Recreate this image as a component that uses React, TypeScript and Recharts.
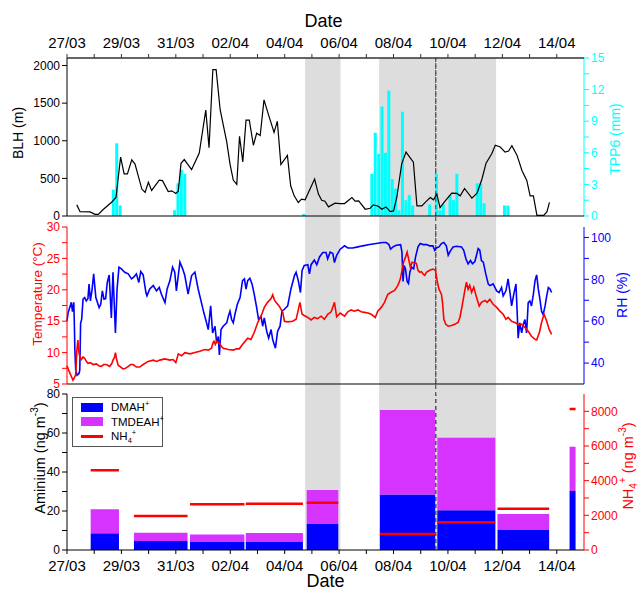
import {
  Area,
  Bar,
  ComposedChart,
  Legend,
  Line,
  ReferenceLine,
  XAxis,
  YAxis,
} from 'recharts'

// x values are days counted from 27/03 00:00
const dateLabels = ['27/03', '29/03', '31/03', '02/04', '04/04', '06/04', '08/04', '10/04', '12/04', '14/04']
const dayTicks = [0, 1, 2, 3, 4, 5, 6, 7, 8, 9, 10, 11, 12, 13, 14, 15, 16, 17, 18]

const blhTicks = [0, 500, 1000, 1500, 2000]
const tppTicks = [0, 1.5, 3, 4.5, 6, 7.5, 9, 10.5, 12, 13.5, 15]
const tempTicks = [5, 7.5, 10, 12.5, 15, 17.5, 20, 22.5, 25, 27.5, 30]
const rhTicks = [40, 50, 60, 70, 80, 90, 100]
const amineTicks = [0, 10, 20, 30, 40, 50, 60, 70, 80]
const nh4Ticks = [0, 1000, 2000, 3000, 4000, 5000, 6000, 7000, 8000]

const shadedPeriods = [[8.75, 10.05], [11.47, 15.77]]
const frontDay = 13.55

// boundary layer height, m
const blh = [
  [0.36, 148], [0.48, 58], [0.85, 55], [1.03, 22], [1.15, 22], [1.34, 90], [1.64, 183], [1.8, 246],
  [1.97, 783], [2.1, 560], [2.22, 560], [2.38, 747], [2.5, 690], [2.75, 358], [2.87, 313], [2.99, 447],
  [3.11, 340], [3.39, 478], [3.51, 470], [3.72, 326], [3.85, 335], [4.0, 300], [4.09, 330], [4.19, 700],
  [4.31, 750], [4.58, 617], [4.86, 836], [5.1, 1409], [5.22, 908], [5.36, 1946], [5.48, 1946], [5.63, 1409],
  [5.87, 984], [5.99, 693], [6.11, 478], [6.24, 420], [6.34, 1060], [6.46, 720], [6.58, 1275], [6.7, 1275],
  [6.85, 940], [6.97, 1100], [7.1, 1070], [7.24, 1543], [7.39, 1365], [7.61, 1110], [7.73, 1260], [7.86, 684],
  [8.1, 805], [8.22, 402], [8.35, 268], [8.5, 180], [8.62, 224], [8.75, 215], [9.1, 492], [9.24, 291],
  [9.36, 210], [9.48, 197], [9.61, 121], [9.85, 170], [10.03, 165], [10.2, 165], [10.47, 246], [10.59, 197],
  [10.72, 201], [10.96, 90], [11.14, 103], [11.26, 148], [11.44, 130], [11.57, 90], [11.72, 121], [11.88, 58],
  [12.0, 67], [12.12, 246], [12.3, 693], [12.46, 850], [12.6, 780], [12.73, 715], [12.86, 134], [13.04, 134],
  [13.22, 201], [13.35, 246], [13.47, 215], [13.59, 291], [13.71, 112], [13.9, 201], [14.14, 304], [14.33, 300],
  [14.45, 268], [14.61, 366], [14.88, 237], [15.07, 304], [15.25, 492], [15.4, 702], [15.61, 827], [15.74, 940],
  [15.92, 917], [16.1, 850], [16.23, 863], [16.35, 935], [16.54, 805], [16.72, 604], [16.9, 470], [17.02, 268],
  [17.14, 268], [17.27, 9], [17.52, 9], [17.64, 58], [17.73, 180],
]

// 3-hourly precipitation, mm
const tpp6 = [
  [1.71, 2.5], [1.835, 6.9], [1.96, 1.0], [3.96, 0.55], [4.085, 3.1], [4.21, 4.4], [4.335, 4.0], [8.71, 0.2],
  [11.21, 4.0], [11.335, 7.9], [11.46, 5.9], [11.585, 10.4], [11.71, 6.0], [11.835, 11.9], [11.96, 3.5],
  [12.085, 2.6], [12.21, 0.55], [12.335, 9.9], [12.46, 1.5], [12.585, 2.0], [12.71, 1.0], [13.335, 1.1],
  [13.585, 4.0], [13.71, 0.55], [13.835, 1.1], [14.085, 2.0], [14.21, 1.5], [14.335, 4.0], [15.085, 3.1],
  [15.21, 3.1], [15.335, 1.2], [16.085, 1.0], [16.21, 1.0],
]

// air temperature, °C
const temperature = [
  [0, 7.9], [0.08, 7.0], [0.16, 6.2], [0.22, 5.6], [0.27, 6.0], [0.32, 6.5], [0.36, 10.2], [0.4, 12.0],
  [0.44, 10.0], [0.47, 9.4], [0.53, 8.9], [0.59, 9.3], [0.65, 9.1], [0.71, 8.6], [0.77, 8.3], [0.86, 8.4],
  [0.96, 8.1], [1.08, 8.2], [1.17, 7.9], [1.26, 7.8], [1.35, 8.1], [1.45, 8.1], [1.57, 7.8], [1.65, 8.3],
  [1.69, 8.8], [1.74, 9.2], [1.78, 10.0], [1.82, 9.0], [1.88, 8.0], [1.94, 7.8], [2.06, 7.4], [2.15, 7.5],
  [2.25, 7.8], [2.34, 8.1], [2.43, 8.1], [2.55, 7.7], [2.67, 7.7], [2.8, 8.1], [2.98, 8.6], [3.17, 8.8],
  [3.3, 8.6], [3.41, 8.8], [3.6, 9.0], [3.78, 8.8], [3.9, 8.9], [4.0, 8.4], [4.05, 9.2], [4.09, 9.8],
  [4.21, 9.5], [4.33, 10.0], [4.52, 9.8], [4.7, 10.0], [4.88, 10.2], [5.07, 10.5], [5.19, 10.4], [5.31, 10.7],
  [5.36, 11.5], [5.4, 11.8], [5.45, 11.3], [5.5, 11.8], [5.6, 11.5], [5.67, 11.0], [5.74, 10.7], [5.93, 10.5],
  [6.11, 10.4], [6.23, 10.6], [6.33, 10.6], [6.45, 11.3], [6.64, 12.3], [6.76, 12.1], [6.88, 13.2], [7.01, 14.8],
  [7.13, 15.8], [7.25, 17.2], [7.37, 18.0], [7.5, 18.6], [7.56, 19.2], [7.62, 18.4], [7.68, 18.0], [7.8, 17.4],
  [7.93, 16.4], [7.99, 15.0], [8.11, 14.9], [8.29, 15.0], [8.42, 15.3], [8.48, 16.4], [8.56, 18.0], [8.64, 16.1],
  [8.72, 15.9], [8.85, 15.6], [8.97, 15.2], [9.09, 15.6], [9.21, 15.4], [9.34, 15.8], [9.46, 15.3], [9.58, 16.1],
  [9.71, 16.5], [9.83, 18.0], [9.91, 15.7], [10.04, 16.3], [10.2, 15.8], [10.32, 16.5], [10.44, 16.8],
  [10.56, 16.6], [10.69, 16.8], [10.81, 16.5], [10.93, 16.4], [11.06, 16.3], [11.18, 16.1], [11.33, 15.6],
  [11.42, 16.6], [11.55, 17.2], [11.67, 18.0], [11.79, 19.3], [11.91, 19.6], [12.04, 19.9], [12.16, 20.7],
  [12.25, 21.7], [12.32, 23.3], [12.37, 24.4], [12.44, 25.2], [12.5, 26.0], [12.56, 24.8], [12.62, 23.6],
  [12.68, 24.4], [12.75, 24.3], [12.84, 24.2], [12.9, 23.1], [12.96, 22.8], [13.02, 22.9], [13.09, 22.5],
  [13.15, 22.3], [13.21, 22.8], [13.33, 23.1], [13.45, 23.3], [13.54, 23.1], [13.6, 21.5], [13.67, 20.1],
  [13.76, 19.3], [13.8, 18.0], [13.85, 15.3], [13.92, 14.5], [14.01, 14.2], [14.13, 14.3], [14.25, 14.5],
  [14.37, 14.8], [14.44, 15.6], [14.52, 17.4], [14.62, 19.9], [14.68, 21.2], [14.74, 20.1], [14.8, 20.7],
  [14.87, 19.6], [14.95, 20.4], [15.05, 18.8], [15.15, 17.4], [15.23, 18.0], [15.36, 18.3], [15.44, 18.0],
  [15.54, 18.5], [15.66, 17.7], [15.79, 17.2], [15.91, 16.6], [16.03, 16.1], [16.13, 15.3], [16.21, 15.6],
  [16.34, 15.0], [16.46, 14.8], [16.58, 14.5], [16.71, 14.5], [16.83, 14.0], [16.95, 13.4], [17.07, 12.6],
  [17.2, 12.1], [17.26, 12.0], [17.36, 13.2], [17.44, 14.8], [17.53, 16.1], [17.63, 15.0], [17.72, 13.7],
  [17.81, 12.9],
]

// relative humidity, %
const humidity = [
  [0, 60], [0.04, 64], [0.1, 66.5], [0.16, 69], [0.2, 64.6], [0.25, 69], [0.27, 59], [0.29, 46], [0.32, 36.6],
  [0.37, 34.2], [0.44, 35], [0.47, 36.6], [0.5, 59], [0.54, 61], [0.59, 70.5], [0.65, 71.3], [0.71, 69.7],
  [0.77, 70.8], [0.81, 77.8], [0.86, 69.7], [0.92, 75], [0.98, 82.6], [1.06, 71.3], [1.12, 68.9], [1.18, 66.5],
  [1.24, 68.1], [1.3, 74.5], [1.36, 70.5], [1.42, 70.8], [1.48, 78.5], [1.55, 82.1], [1.63, 61.6], [1.69, 83.4],
  [1.78, 54.4], [1.84, 75.4], [1.91, 85.8], [2.0, 85], [2.12, 83.4], [2.25, 82.6], [2.37, 80.2], [2.45, 81],
  [2.55, 82.6], [2.64, 78.5], [2.71, 83.7], [2.8, 82.1], [2.9, 73.7], [2.94, 72.1], [3.04, 75.4], [3.17, 77],
  [3.29, 74.5], [3.39, 76.1], [3.47, 72.9], [3.6, 68.9], [3.68, 75.4], [3.78, 79.3], [3.88, 85.8], [3.96, 83.4],
  [4.02, 74.5], [4.15, 88.2], [4.25, 85], [4.33, 81.8], [4.45, 72.9], [4.58, 81.8], [4.7, 83.4], [4.82, 75.4],
  [4.94, 68.9], [5.03, 64], [5.13, 59.2], [5.19, 56], [5.28, 67.3], [5.35, 54.4], [5.44, 57.6], [5.5, 49.5],
  [5.56, 52.7], [5.6, 43.9], [5.66, 56], [5.74, 57.6], [5.87, 59.2], [5.93, 62.4], [5.99, 64.8], [6.05, 60.8],
  [6.11, 59.2], [6.17, 63.2], [6.26, 68.1], [6.36, 71.3], [6.45, 79.4], [6.52, 80.2], [6.58, 75.3], [6.64, 79.4],
  [6.72, 80.5], [6.8, 77.8], [6.88, 72.9], [6.97, 66.5], [7.04, 60.8], [7.13, 62.4], [7.19, 57.6], [7.25, 61.6],
  [7.34, 55.2], [7.41, 51.9], [7.5, 56], [7.56, 51.1], [7.66, 47.1], [7.74, 55.2], [7.83, 57.6], [7.9, 64.8],
  [7.99, 65.7], [8.11, 67.3], [8.23, 75.4], [8.36, 81.8], [8.42, 83.4], [8.5, 79.4], [8.58, 73.7], [8.64, 84.2],
  [8.72, 86.6], [8.85, 87], [8.91, 82.6], [8.97, 87], [9.09, 89.2], [9.18, 87], [9.28, 90.7], [9.4, 92.8],
  [9.52, 92.8], [9.58, 89.8], [9.67, 93], [9.77, 92.3], [9.83, 88], [9.91, 91.5], [10.04, 94.4], [10.2, 96],
  [10.32, 95], [10.5, 95], [10.69, 95.5], [10.87, 96], [11.12, 96.6], [11.36, 97.1], [11.61, 97.6], [11.73, 97.6],
  [11.83, 96.6], [11.89, 94.4], [11.98, 95.5], [12.1, 96.3], [12.26, 96.6], [12.31, 93], [12.35, 79], [12.39, 86.6],
  [12.44, 85], [12.5, 79], [12.55, 78], [12.6, 83.4], [12.66, 85.8], [12.74, 85], [12.81, 90.7], [12.9, 95.5],
  [12.98, 97.1], [13.09, 96.6], [13.21, 96.6], [13.33, 96], [13.45, 96], [13.51, 93.9], [13.57, 95], [13.67, 95.5],
  [13.76, 97.1], [13.85, 97.6], [13.94, 96], [14.01, 91.5], [14.07, 93.1], [14.19, 95.5], [14.31, 95.8],
  [14.5, 95.5], [14.58, 93.9], [14.66, 89.8], [14.74, 87.4], [14.83, 89], [14.9, 87.4], [14.99, 88.5],
  [15.05, 91.5], [15.11, 94.7], [15.17, 93.9], [15.23, 89], [15.3, 88.2], [15.39, 82.6], [15.48, 77.8],
  [15.54, 77], [15.66, 77.8], [15.79, 74.5], [15.88, 73.7], [15.97, 76.1], [16.03, 72.1], [16.13, 74.5],
  [16.21, 80.2], [16.28, 73.7], [16.34, 67.3], [16.42, 72.9], [16.5, 77.8], [16.55, 62.4], [16.58, 51.9],
  [16.64, 59.2], [16.71, 54.4], [16.77, 58.4], [16.83, 60.8], [16.89, 54.4], [16.95, 68.9], [17.01, 69.7],
  [17.07, 67.3], [17.14, 72.9], [17.2, 79.4], [17.26, 82.1], [17.32, 75.4], [17.38, 70.5], [17.44, 64.8],
  [17.5, 63.2], [17.57, 67.3], [17.63, 72.1], [17.69, 76.1], [17.75, 75.4], [17.81, 73.7],
]

// filter samples (start/end in days), aminium ng m-3, NH4+ ng m-3
const sampleStart = [0.87, 2.46, 4.52, 6.57, 8.81, 11.5, 13.61, 15.82, 18.47]
const sampleEnd = [1.91, 4.43, 6.52, 8.67, 9.97, 13.53, 15.74, 17.72, 18.69]
const dmah = [8.6, 4.6, 4.1, 4.1, 13.3, 28.5, 20.4, 10.3, 30.3]
const tmdeah = [12.3, 4.3, 3.9, 4.6, 17.5, 43.3, 37.2, 8.2, 22.7]
const nh4 = [4600, 1960, 2640, 2670, 2730, 920, 1600, 2380, 8130]

const FONT = '"Liberation Sans", Arial, Helvetica, sans-serif'
const XDOMAIN = [0, 19]
const CYAN = '#00FFFF'
const RED = '#FF0000'
const BLUE = '#0000FF'
const MAGENTA = '#D633FF'
const SHADE = '#DDDDDD'

const blhRows = blh.map(([day, v]) => ({ day, blh: v }))
const tppRows = tpp6.map(([day, v]) => ({ day, tpp: v }))
const climateRows = [
  ...temperature.map(([day, v]) => ({ day, temp: v })),
  ...humidity.map(([day, v]) => ({ day, rh: v })),
].sort((a, b) => a.day - b.day)

// a step series: 1 inside a shaded period, 0 outside
const shadeRows = [
  { day: XDOMAIN[0], shade: 0 },
  ...shadedPeriods.flatMap(([a, b]) => [{ day: a, shade: 1 }, { day: b, shade: 0 }]),
  { day: XDOMAIN[1], shade: 0 },
]

// each sample holds its value from start to end; a null NH4 row breaks the line between samples
const sampleRows = sampleStart.flatMap((s, i) => {
  const rows = [
    { day: s, dmah: dmah[i], tmdeah: tmdeah[i], nh4: nh4[i] },
    { day: sampleEnd[i], dmah: 0, tmdeah: 0, nh4: nh4[i] },
  ]
  if (i < sampleStart.length - 1) {
    rows.push({ day: (sampleEnd[i] + sampleStart[i + 1]) / 2, dmah: 0, tmdeah: 0, nh4: null })
  }
  return rows
})

const dateTick = (v) => (v % 2 === 0 ? dateLabels[v / 2] : '')
const every = (step) => (v) => (Math.abs(v % step) < 1e-6 ? String(v) : '')

function VTitle({ x, y, color, size = 14, children }) {
  return (
    <text
      x={x}
      y={y}
      transform={`rotate(-90 ${x} ${y})`}
      textAnchor='middle'
      dominantBaseline='central'
      fill={color}
      fontSize={size}
      fontFamily={FONT}
    >
      {children}
    </text>
  )
}

const sup = (s, size) => (
  <tspan baselineShift='super' fontSize={size}>{s}</tspan>
)

function AmineLegend() {
  const row = { display: 'flex', alignItems: 'center', height: 14.5, whiteSpace: 'nowrap' }
  const swatch = { width: 22, height: 9, marginRight: 8, flex: 'none' }
  const s = { fontSize: 7.5, verticalAlign: 'super', lineHeight: 0 }
  return (
    <div
      style={{
        boxSizing: 'border-box',
        width: 91,
        border: '1px solid #555',
        background: '#fff',
        padding: '2px 4px 2px 8px',
        fontSize: 11.5,
        fontFamily: FONT,
        color: '#000',
      }}
    >
      <div style={row}>
        <span style={{ ...swatch, background: BLUE }} />
        <span>DMAH<span style={s}>+</span></span>
      </div>
      <div style={row}>
        <span style={{ ...swatch, background: MAGENTA }} />
        <span>TMDEAH<span style={s}>+</span></span>
      </div>
      <div style={row}>
        <span style={{ ...swatch, height: 2.5, background: RED }} />
        <span>
          NH<span style={{ fontSize: 7.5, verticalAlign: 'sub', lineHeight: 0 }}>4</span>
          <span style={s}>+</span>
        </span>
      </div>
    </div>
  )
}

const tickFont = { fill: '#000', fontSize: 15, fontFamily: FONT }
const yTick = (color) => ({ fill: color, fontSize: 12, fontFamily: FONT })

export default function App() {
  return (
    <div style={{ position: 'absolute', left: 0, top: 0, width: 639, height: 592, fontFamily: FONT, background: '#fff' }}>
      {/* shaded periods and the front line, spanning all three panels */}
      <div style={{ position: 'absolute', left: 0, top: 0 }}>
        <ComposedChart width={639} height={592} data={shadeRows} margin={{ top: 58, right: 55, bottom: 42, left: 67 }}>
          <XAxis xAxisId='b' type='number' dataKey='day' domain={XDOMAIN} hide />
          <YAxis yAxisId='l' type='number' domain={[0, 1]} hide />
          <Area
            xAxisId='b'
            yAxisId='l'
            type='stepAfter'
            dataKey='shade'
            stroke='none'
            fill={SHADE}
            fillOpacity={1}
            isAnimationActive={false}
          />
          <ReferenceLine xAxisId='b' yAxisId='l' x={frontDay} stroke='#555' strokeWidth={1.2} strokeDasharray='4 3' />
        </ComposedChart>
      </div>

      {/* precipitation bars */}
      <div style={{ position: 'absolute', left: 0, top: 0 }}>
        <ComposedChart width={639} height={230} data={tppRows} margin={{ top: 58, right: 5, bottom: 14, left: 67 }}>
          <XAxis xAxisId='b' type='number' dataKey='day' domain={XDOMAIN} hide />
          <YAxis
            yAxisId='r'
            orientation='right'
            width={50}
            domain={[0, 15]}
            ticks={tppTicks}
            interval={0}
            tickFormatter={every(3)}
            stroke={CYAN}
            tick={yTick(CYAN)}
            tickSize={5}
            label={{ content: () => <VTitle x={615} y={139} color={CYAN}>TPP6 (mm)</VTitle> }}
          />
          <Bar xAxisId='b' yAxisId='r' dataKey='tpp' fill={CYAN} barSize={3} isAnimationActive={false} />
        </ComposedChart>
      </div>

      {/* boundary layer height */}
      <div style={{ position: 'absolute', left: 0, top: 0 }}>
        <ComposedChart width={639} height={230} data={blhRows} margin={{ top: 28, right: 55, bottom: 0, left: 17 }}>
          <XAxis
            xAxisId='t'
            orientation='top'
            type='number'
            dataKey='day'
            domain={XDOMAIN}
            ticks={dayTicks}
            interval={0}
            tickFormatter={dateTick}
            height={30}
            axisLine={{ stroke: '#333', strokeWidth: 1.5 }}
            tickLine={{ stroke: '#333' }}
            tickSize={4}
            tickMargin={6}
            tick={tickFont}
            label={{
              content: ({ viewBox }) => (
                <text x={viewBox.x + viewBox.width / 2 - 2} y={27} textAnchor='middle' fontSize={18} fontFamily={FONT} fill='#000'>
                  Date
                </text>
              ),
            }}
          />
          <XAxis
            xAxisId='b'
            type='number'
            dataKey='day'
            domain={XDOMAIN}
            ticks={dayTicks}
            interval={0}
            tick={false}
            height={14}
            stroke='#000'
            tickSize={4}
          />
          <YAxis
            yAxisId='l'
            width={50}
            domain={[0, 2100]}
            ticks={blhTicks}
            interval={0}
            stroke='#000'
            tick={yTick('#000')}
            tickSize={5}
            label={{ content: () => <VTitle x={18} y={133} color='#000'>BLH (m)</VTitle> }}
          />
          <ReferenceLine xAxisId='b' yAxisId='l' x={frontDay} stroke='#555' strokeWidth={1.2} strokeDasharray='4 3' />
          <Line
            xAxisId='b'
            yAxisId='l'
            dataKey='blh'
            type='linear'
            stroke='#000'
            strokeWidth={1.2}
            dot={false}
            isAnimationActive={false}
          />
        </ComposedChart>
      </div>

      {/* temperature and relative humidity */}
      <div style={{ position: 'absolute', left: 0, top: 216 }}>
        <ComposedChart width={639} height={176} data={climateRows} margin={{ top: 11, right: 5, bottom: 0, left: 17 }}>
          <XAxis
            xAxisId='t'
            orientation='top'
            type='number'
            dataKey='day'
            domain={XDOMAIN}
            height={0}
            tick={false}
            tickLine={false}
            axisLine={{ stroke: '#333', strokeWidth: 1.5 }}
          />
          <XAxis
            xAxisId='b'
            type='number'
            dataKey='day'
            domain={XDOMAIN}
            ticks={dayTicks}
            interval={0}
            tick={false}
            height={8}
            stroke='#000'
            tickSize={4}
          />
          <YAxis
            yAxisId='l'
            width={50}
            domain={[5, 30]}
            ticks={tempTicks}
            interval={0}
            tickFormatter={every(5)}
            stroke={RED}
            tick={yTick(RED)}
            tickSize={5}
            label={{ content: () => <VTitle x={37} y={78} color={RED} size={13.5}>Temperature (°C)</VTitle> }}
          />
          <YAxis
            yAxisId='r'
            orientation='right'
            width={50}
            domain={[30, 105]}
            ticks={rhTicks}
            interval={0}
            tickFormatter={every(20)}
            stroke={BLUE}
            tick={yTick(BLUE)}
            tickSize={5}
            label={{ content: () => <VTitle x={622} y={79} color={BLUE}>RH (%)</VTitle> }}
          />
          <ReferenceLine xAxisId='b' yAxisId='l' x={frontDay} stroke='#555' strokeWidth={1.2} strokeDasharray='4 3' />
          <Line
            xAxisId='b'
            yAxisId='r'
            dataKey='rh'
            type='linear'
            stroke={BLUE}
            strokeWidth={1.6}
            dot={false}
            connectNulls
            isAnimationActive={false}
          />
          <Line
            xAxisId='b'
            yAxisId='l'
            dataKey='temp'
            type='linear'
            stroke={RED}
            strokeWidth={1.6}
            dot={false}
            connectNulls
            isAnimationActive={false}
          />
        </ComposedChart>
      </div>

      {/* aminium and ammonium filter samples */}
      <div style={{ position: 'absolute', left: 0, top: 384 }}>
        <ComposedChart width={639} height={208} data={sampleRows} margin={{ top: 10, right: 5, bottom: 0, left: 17 }}>
          <XAxis
            xAxisId='t'
            orientation='top'
            type='number'
            dataKey='day'
            domain={XDOMAIN}
            height={0}
            tick={false}
            tickLine={false}
            axisLine={{ stroke: '#555', strokeWidth: 2 }}
          />
          <XAxis
            xAxisId='b'
            type='number'
            dataKey='day'
            domain={XDOMAIN}
            ticks={dayTicks}
            interval={0}
            tickFormatter={dateTick}
            height={42}
            stroke='#000'
            tickSize={4}
            tickMargin={6}
            tick={tickFont}
            label={{
              content: ({ viewBox }) => (
                <text x={viewBox.x + viewBox.width / 2} y={viewBox.y + 37} textAnchor='middle' fontSize={18} fontFamily={FONT} fill='#000'>
                  Date
                </text>
              ),
            }}
          />
          <YAxis
            yAxisId='l'
            width={50}
            domain={[0, 80]}
            ticks={amineTicks}
            interval={0}
            tickFormatter={every(20)}
            stroke='#000'
            tick={yTick('#000')}
            tickSize={5}
            label={{
              content: () => (
                <VTitle x={40} y={74} color='#000' size={14.5}>
                  Aminium (ng m{sup('-3', 10)})
                </VTitle>
              ),
            }}
          />
          <YAxis
            yAxisId='r'
            orientation='right'
            width={50}
            domain={[0, 9000]}
            ticks={nh4Ticks}
            interval={0}
            tickFormatter={every(2000)}
            stroke={RED}
            tick={yTick(RED)}
            tickSize={5}
            label={{
              content: () => (
                <VTitle x={628} y={82} color={RED} size={14.5}>
                  NH<tspan baselineShift='sub' fontSize={10}>4</tspan>
                  {sup('+', 10)} (ng m{sup('-3', 10)})
                </VTitle>
              ),
            }}
          />
          <Area
            xAxisId='b'
            yAxisId='l'
            type='stepAfter'
            dataKey='dmah'
            stackId='amine'
            stroke='none'
            fill={BLUE}
            fillOpacity={1}
            isAnimationActive={false}
          />
          <Area
            xAxisId='b'
            yAxisId='l'
            type='stepAfter'
            dataKey='tmdeah'
            stackId='amine'
            stroke='none'
            fill={MAGENTA}
            fillOpacity={1}
            isAnimationActive={false}
          />
          <ReferenceLine xAxisId='b' yAxisId='l' x={frontDay} stroke='#555' strokeWidth={1.2} strokeDasharray='4 3' />
          <Line
            xAxisId='b'
            yAxisId='r'
            dataKey='nh4'
            type='linear'
            stroke={RED}
            strokeWidth={2.5}
            dot={false}
            connectNulls={false}
            isAnimationActive={false}
          />
          <Legend
            layout='vertical'
            align='center'
            verticalAlign='middle'
            wrapperStyle={{ left: 72, top: 13, width: 91, height: 'auto' }}
            content={() => <AmineLegend />}
          />
        </ComposedChart>
      </div>
    </div>
  )
}
